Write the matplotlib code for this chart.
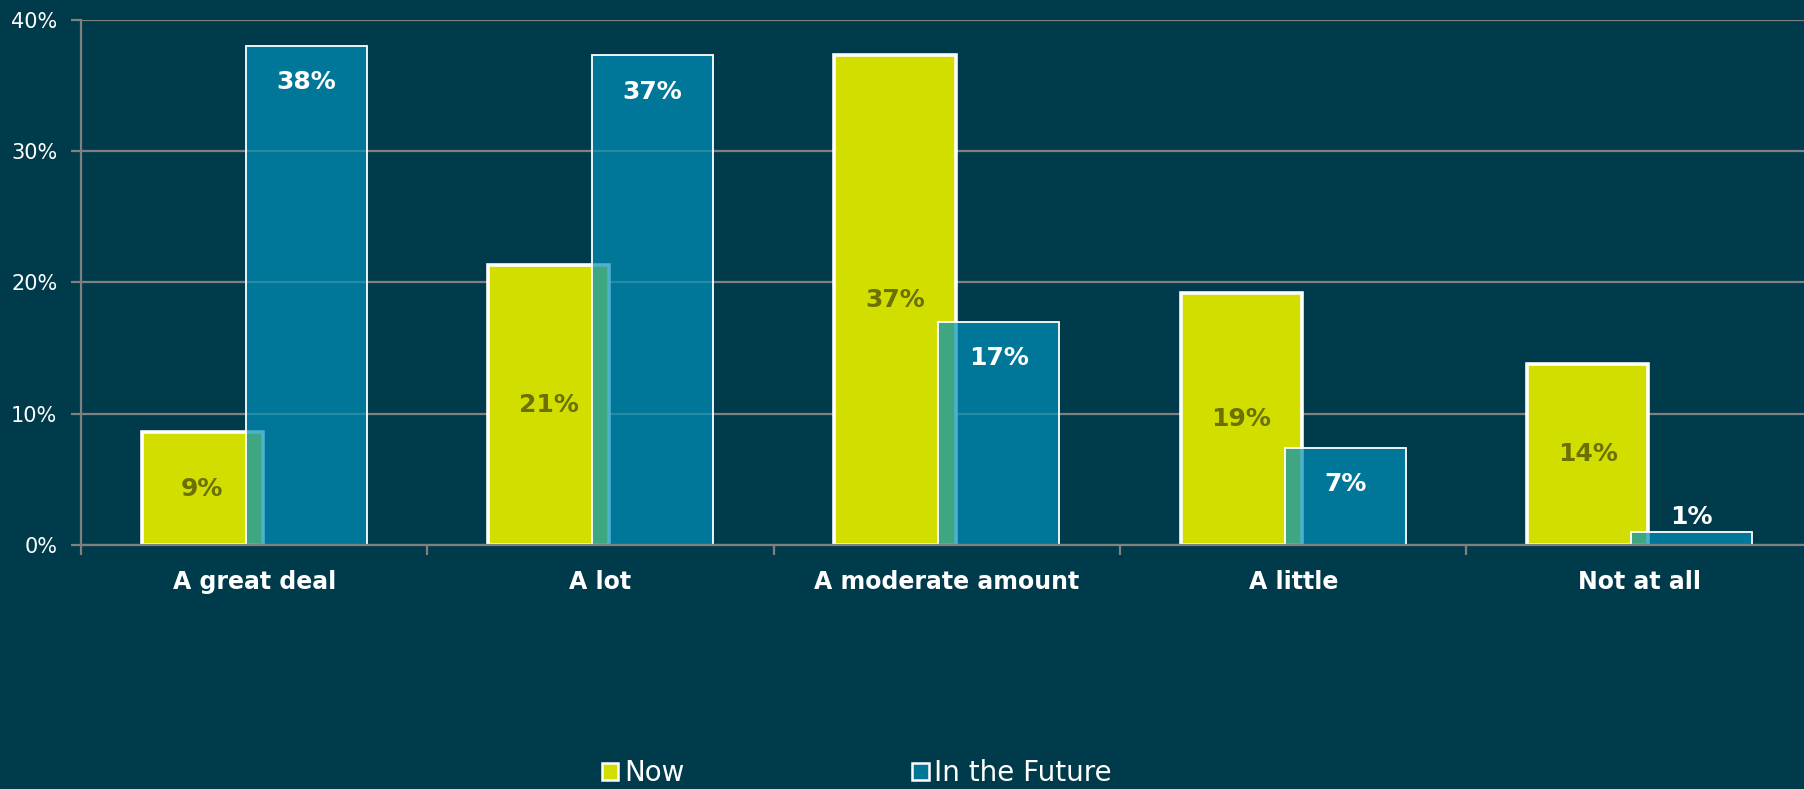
import numpy as np
import matplotlib
matplotlib.use('Agg')
import matplotlib.pyplot as plt
from matplotlib.patches import Patch

plt.rcParams['font.family'] = ['DejaVu Sans']

categories = ['A great deal', 'A lot', 'A moderate amount', 'A little', 'Not at all']
now_vals = [8.6, 21.3, 37.3, 19.2, 13.8]
future_vals = [38.0, 37.3, 17.0, 7.4, 1.0]
y_ticks = [0, 10, 20, 30, 40]

bg = '#003b4c'
now_color = '#d2de00'
future_color = (0.0, 0.565, 0.725, 0.7)
now_text = '#6b7000'
grid_color = '#808080'

fig = plt.figure(figsize=(18.04, 7.89), dpi=100, facecolor=bg)
ax = fig.add_axes([0.0449, 0.3093, 0.960, 0.6654], facecolor=bg)

x = np.arange(len(categories))
w = 0.35
off = 0.15

ax.bar(x - off, now_vals, w, color=now_color, edgecolor='white', linewidth=2.6, zorder=3)
ax.bar(x + off, future_vals, w, color=future_color, edgecolor='white', linewidth=1.3, zorder=4)

for xi, v in zip(x, now_vals):
    ax.text(xi - off, v / 2, f'{v:.0f}%', ha='center', va='center', color=now_text,
            fontsize=18, fontweight='bold', zorder=6)

for xi, v in zip(x, future_vals):
    if v > 4:
        ax.annotate(f'{v:.0f}%', (xi + off, v), xytext=(0, -26), textcoords='offset points',
                    ha='center', va='center', color='white', fontsize=18, fontweight='bold', zorder=6)
    else:
        ax.annotate(f'{v:.0f}%', (xi + off, v), xytext=(0, 11), textcoords='offset points',
                    ha='center', va='center', color='white', fontsize=18, fontweight='bold', zorder=6)

ax.set_ylim(0, 40)
ax.set_xlim(-0.5, 4.5)
ax.set_yticks(y_ticks)
ax.set_yticklabels([f'{t}%' for t in y_ticks], color='white', fontsize=15)
ax.yaxis.grid(True, color=grid_color, linewidth=1.6, zorder=0)
ax.set_axisbelow(True)

ax.set_xticks(x)
ax.set_xticklabels(categories, color='white', fontsize=17, fontweight='bold')
ax.tick_params(axis='x', length=0, pad=18)
ax.set_xticks(np.arange(-0.5, 4.6, 1.0), minor=True)
ax.tick_params(axis='x', which='minor', length=7, width=1.6, color=grid_color)
ax.tick_params(axis='y', length=7, width=1.6, color=grid_color, pad=10)

for s in ['top', 'right']:
    ax.spines[s].set_visible(False)
for s in ['left', 'bottom']:
    ax.spines[s].set_color(grid_color)
    ax.spines[s].set_linewidth(1.6)
    ax.spines[s].set_zorder(5)

handles = [Patch(facecolor=now_color, edgecolor='white', linewidth=1.8, label='Now'),
           Patch(facecolor=(0.0, 0.463, 0.596), edgecolor='white', linewidth=1.8, label='In the Future')]
leg = fig.legend(handles=handles, loc='center', bbox_to_anchor=(0.475, 0.02), ncol=2,
                 frameon=False, fontsize=20, handlelength=0.6, handleheight=0.6,
                 handletextpad=0.2, columnspacing=8.2, labelcolor='white')

fig.savefig('out.png', dpi=100, facecolor=bg)
